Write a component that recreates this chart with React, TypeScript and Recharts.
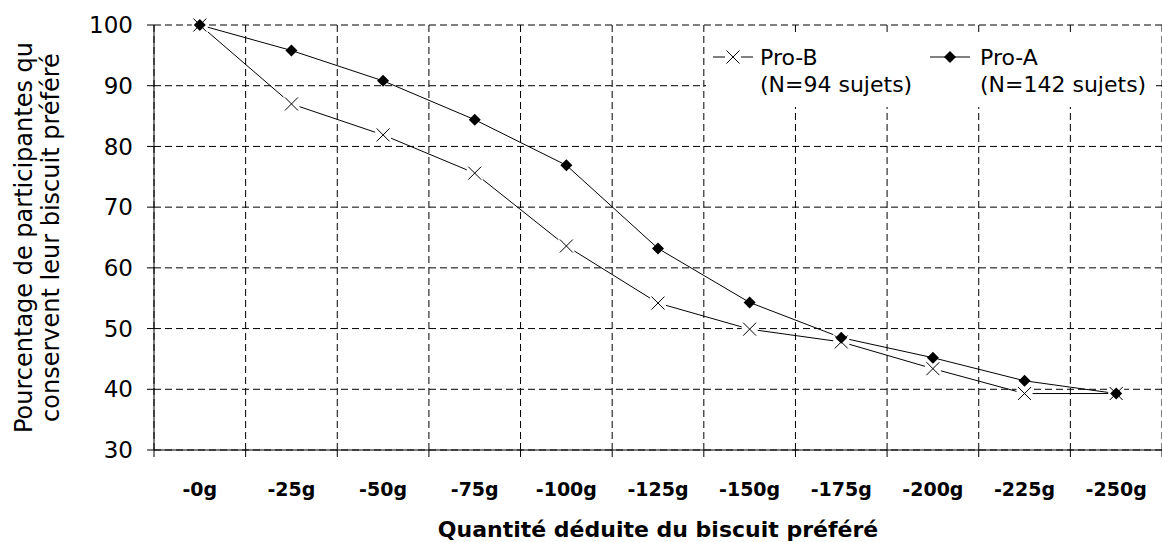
import {
  CartesianGrid,
  Label,
  Legend,
  Line,
  LineChart,
  XAxis,
  YAxis,
} from "recharts";

const categories = [
  "-0g",
  "-25g",
  "-50g",
  "-75g",
  "-100g",
  "-125g",
  "-150g",
  "-175g",
  "-200g",
  "-225g",
  "-250g",
];
const proA = [100, 95.8, 90.8, 84.4, 76.9, 63.2, 54.3, 48.5, 45.2, 41.4, 39.3];
const proB = [100, 87.0, 81.9, 75.6, 63.6, 54.2, 49.9, 47.8, 43.4, 39.3, 39.3];
const yTicks = [30, 40, 50, 60, 70, 80, 90, 100];
const yTitleLines = [
  "Pourcentage de participantes qu",
  "conservent leur biscuit préféré",
];
const xTitle = "Quantité déduite du biscuit préféré";
const legendB = ["Pro-B", "(N=94 sujets)"];
const legendA = ["Pro-A", "(N=142 sujets)"];

const FONT = "'DejaVu Sans', sans-serif";

type Row = { i: number; label: string; proA: number; proB: number };

const rows: Row[] = categories.map((label, i) => ({
  i,
  label,
  proA: proA[i],
  proB: proB[i],
}));

// limites des categories (lignes verticales de la grille + graduations)
const bounds = [...categories.map((_, i) => i - 0.5), categories.length - 0.5];
const centers = categories.map((_, i) => i);

function Cross({ cx, cy }: { cx: number; cy: number }) {
  const h = 6.5;
  return (
    <g>
      <rect x={cx - 8} y={cy - 8} width={16} height={16} fill="#fff" />
      <line x1={cx - h} y1={cy - h} x2={cx + h} y2={cy + h} stroke="#000" strokeWidth={1} />
      <line x1={cx - h} y1={cy + h} x2={cx + h} y2={cy - h} stroke="#000" strokeWidth={1} />
    </g>
  );
}

function Diamond({ cx, cy }: { cx: number; cy: number }) {
  const h = 6;
  return (
    <polygon
      points={`${cx},${cy - h} ${cx + h},${cy} ${cx},${cy + h} ${cx - h},${cy}`}
      fill="#000"
    />
  );
}

function renderYTitle(props: any) {
  const vb = props.viewBox || { x: 0, y: 25, height: 425 };
  const cy = vb.y + vb.height / 2;
  return (
    <g>
      {yTitleLines.map((t, k) => {
        const x = vb.x + 32 + k * 27;
        return (
          <text
            key={k}
            x={x}
            y={cy}
            transform={`rotate(-90 ${x} ${cy})`}
            textAnchor="middle"
            fontSize={24}
            fontFamily={FONT}
            fill="#000"
          >
            {t}
          </text>
        );
      })}
    </g>
  );
}

function LegendBox() {
  const txt = { fontSize: 22, fontFamily: FONT, fill: "#000" };
  return (
    <svg width={450} height={75} style={{ display: "block" }}>
      <rect width={450} height={75} fill="#fff" />
      <line x1={7} x2={47} y1={25} y2={25} stroke="#000" />
      <Cross cx={27} cy={25} />
      <text x={54} y={33} {...txt}>
        {legendB[0]}
      </text>
      <text x={54} y={60} {...txt}>
        {legendB[1]}
      </text>
      <line x1={224} x2={264} y1={25} y2={25} stroke="#000" />
      <Diamond cx={244} cy={25} />
      <text x={274} y={33} {...txt}>
        {legendA[0]}
      </text>
      <text x={274} y={60} {...txt}>
        {legendA[1]}
      </text>
    </svg>
  );
}

export default function App() {
  return (
    <div style={{ position: "absolute", left: 0, top: 0, background: "#fff" }}>
      <LineChart
        width={1162}
        height={542}
        data={rows}
        margin={{ top: 25, right: 0, bottom: 0, left: 0 }}
        style={{ fontFamily: FONT }}
      >
        <CartesianGrid
          xAxisId="axisA"
          stroke="#000"
          strokeDasharray="7 4"
          vertical
          horizontal
        />
        <XAxis
          xAxisId="axisB"
          type="number"
          dataKey="i"
          domain={[bounds[0], bounds[bounds.length - 1]]}
          allowDataOverflow
          ticks={centers}
          interval={0}
          tickFormatter={(v: number) => categories[v] ?? ""}
          axisLine={false}
          tickLine={false}
          tickSize={0}
          tickMargin={32}
          height={91}
          tick={{
            fontSize: 19,
            fontWeight: "bold",
            fill: "#000",
            fontFamily: FONT,
          }}
        >
          <Label
            value={xTitle}
            position="insideBottom"
            offset={5}
            fontSize={22}
            fontWeight="bold"
            fill="#000"
            fontFamily={FONT}
          />
        </XAxis>
        <XAxis
          xAxisId="axisA"
          type="number"
          dataKey="i"
          domain={[bounds[0], bounds[bounds.length - 1]]}
          allowDataOverflow
          ticks={bounds}
          interval={0}
          tickFormatter={() => ""}
          tick={{ fontSize: 1 }}
          tickSize={7}
          height={1}
          stroke="#000"
          axisLine={{ stroke: "#000" }}
          tickLine={{ stroke: "#000" }}
        />
        <YAxis
          domain={[30, 100]}
          ticks={yTicks}
          interval={0}
          width={154}
          tickSize={7}
          tickMargin={14}
          stroke="#000"
          axisLine={{ stroke: "#000" }}
          tickLine={{ stroke: "#000" }}
          tick={{ fontSize: 23, fill: "#000", fontFamily: FONT }}
        >
          <Label content={renderYTitle} />
        </YAxis>
        <Legend
          layout="vertical"
          align="center"
          verticalAlign="middle"
          content={() => <LegendBox />}
          wrapperStyle={{ left: 706, top: 32, width: 450, height: 75 }}
        />
        <Line
          xAxisId="axisB"
          dataKey="proB"
          name="Pro-B"
          stroke="#000"
          strokeWidth={1}
          isAnimationActive={false}
          dot={(p: any) => <Cross key={`b-${p.index}`} cx={p.cx} cy={p.cy} />}
          activeDot={false}
        />
        <Line
          xAxisId="axisB"
          dataKey="proA"
          name="Pro-A"
          stroke="#000"
          strokeWidth={1}
          isAnimationActive={false}
          dot={(p: any) => <Diamond key={`a-${p.index}`} cx={p.cx} cy={p.cy} />}
          activeDot={false}
        />
      </LineChart>
    </div>
  );
}
